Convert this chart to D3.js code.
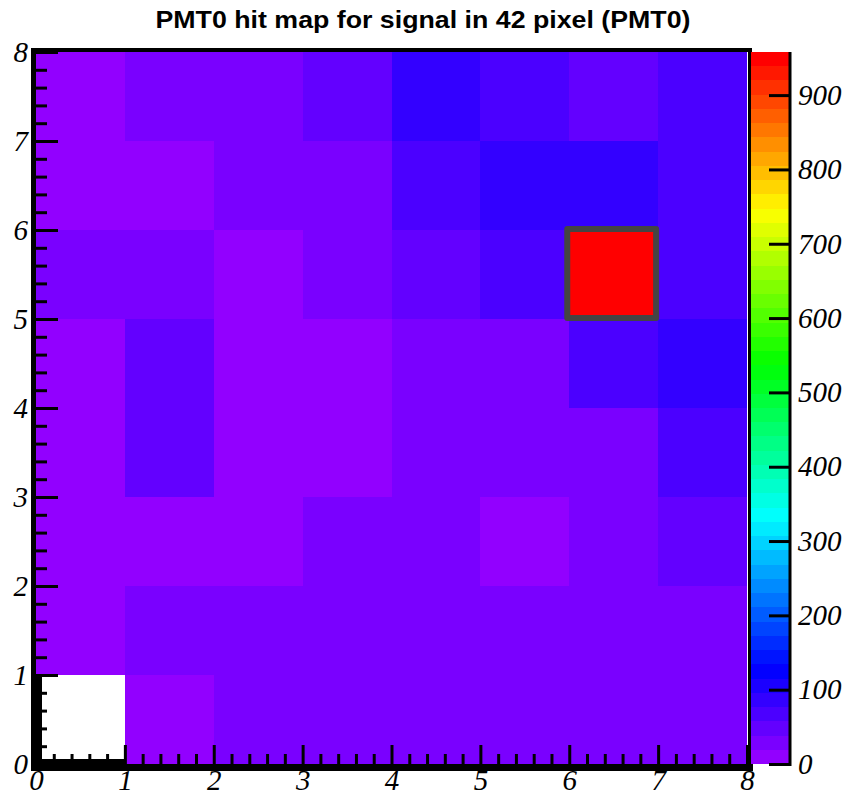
<!DOCTYPE html>
<html>
<head>
<meta charset="utf-8">
<script src="https://cdn.jsdelivr.net/npm/d3@7"></script>
<style>
  body { margin: 0; background: #fff; }
  svg { display: block; }
</style>
</head>
<body>
<svg id="chart"></svg>
<script>
// Hit counts per pixel, one array per y bin (row0 = bottom row), x bins 0..7
const row0 = [0, 11, 25, 29, 31, 28, 27, 26];
const row1 = [15, 28, 31, 29, 33, 27, 30, 32];
const row2 = [12, 17, 14, 35, 37, 13, 30, 43];
const row3 = [14, 40, 9, 16, 30, 32, 26, 74];
const row4 = [16, 41, 13, 11, 33, 28, 71, 87];
const row5 = [27, 31, 10, 26, 50, 69, 958, 63];
const row6 = [15, 17, 30, 34, 66, 88, 83, 70];
const row7 = [12, 29, 33, 47, 85, 68, 45, 64];
const rows = [row0, row1, row2, row3, row4, row5, row6, row7];

const axisTicks = [0, 1, 2, 3, 4, 5, 6, 7, 8];
const zTicks = [0, 100, 200, 300, 400, 500, 600, 700, 800, 900];
const signalPixel = { x: 6, y: 5 };   // the "42 pixel" that is boxed
const title = 'PMT0 hit map for signal in 42 pixel (PMT0)';

const width = 847, height = 797;
const svg = d3.select('#chart').attr('width', width).attr('height', height);

// flatten to cells
const cells = [];
rows.forEach((r, j) => r.forEach((v, i) => cells.push({ x: i, y: j, v: v })));

const x = d3.scaleLinear().domain([0, 8]).range([36, 747]);
const y = d3.scaleLinear().domain([0, 8]).range([764, 52]);

// 50 colour levels violet -> red up to the maximum bin
const zMax = d3.max(cells, d => d.v);
const nLevels = 50;
const levelColor = i => d3.hsl(280 - (i + 1) * (280 / nLevels), 1, 0.5).formatHex();
const level = v => Math.min(nLevels - 1, Math.floor(v / zMax * nLevels));
const z = d3.scaleLinear().domain([0, zMax]).range([764, 52]);

const labelFont = '"Liberation Serif", "Times New Roman", serif';

// thick axis lines (drawn first, cells cover part of them)
svg.append('line').attr('x1', 36.5).attr('x2', 36.5).attr('y1', 48).attr('y2', 771)
  .attr('stroke', '#000').attr('stroke-width', 11);
svg.append('line').attr('x1', 31).attr('x2', 753).attr('y1', 765).attr('y2', 765)
  .attr('stroke', '#000').attr('stroke-width', 12);
svg.append('line').attr('x1', 31).attr('x2', 752).attr('y1', 50).attr('y2', 50)
  .attr('stroke', '#000').attr('stroke-width', 4);

// cells (empty bins are not drawn)
svg.append('g').selectAll('rect')
  .data(cells.filter(d => d.v > 0))
  .enter().append('rect')
  .attr('x', d => x(d.x))
  .attr('y', d => y(d.y + 1))
  .attr('width', d => x(d.x + 1) - x(d.x))
  .attr('height', d => y(d.y) - y(d.y + 1))
  .attr('fill', d => levelColor(level(d.v)))
  .attr('shape-rendering', 'crispEdges');

// right frame line
svg.append('line').attr('x1', 749.5).attr('x2', 749.5).attr('y1', 48).attr('y2', 764)
  .attr('stroke', '#000').attr('stroke-width', 3);

// box round the signal pixel
svg.append('rect')
  .attr('x', x(signalPixel.x) - 2)
  .attr('y', y(signalPixel.y + 1) - 1)
  .attr('width', x(signalPixel.x + 1) - x(signalPixel.x))
  .attr('height', y(signalPixel.y) - y(signalPixel.y + 1))
  .attr('fill', 'none')
  .attr('stroke', '#444')
  .attr('stroke-width', 6)
  .attr('stroke-linejoin', 'round');

const minorTicks = d3.range(0, 40).filter(k => k % 5 !== 0).map(k => k / 5);

function styleAxis(g) {
  g.attr('font-family', null).attr('font-size', null);
  g.select('.domain').remove();
  g.selectAll('line').attr('stroke', '#000').attr('stroke-width', 3);
  g.selectAll('text')
    .style('font-family', labelFont)
    .style('font-style', 'italic')
    .style('font-size', '29px')
    .attr('fill', '#000');
}

// x axis
svg.append('g').attr('transform', 'translate(0,764)')
  .call(d3.axisBottom(x).tickValues(minorTicks).tickSize(-10).tickFormat(''))
  .call(styleAxis);
svg.append('g').attr('transform', 'translate(0,764)')
  .call(d3.axisBottom(x).tickValues(axisTicks).tickSize(-19).tickPadding(5).tickFormat(d3.format('d')))
  .call(styleAxis);

// y axis
svg.append('g').attr('transform', 'translate(36,0)')
  .call(d3.axisLeft(y).tickValues(minorTicks).tickSize(-11).tickFormat(''))
  .call(styleAxis);
svg.append('g').attr('transform', 'translate(36,0)')
  .call(d3.axisLeft(y).tickValues(axisTicks).tickSize(-22).tickPadding(8).tickFormat(d3.format('d')))
  .call(styleAxis);

// colour bar
svg.append('g').selectAll('rect')
  .data(d3.range(nLevels))
  .enter().append('rect')
  .attr('x', 751)
  .attr('width', 39)
  .attr('y', i => z((i + 1) * zMax / nLevels))
  .attr('height', i => z(i * zMax / nLevels) - z((i + 1) * zMax / nLevels))
  .attr('fill', i => levelColor(i))
  .attr('shape-rendering', 'crispEdges');

svg.append('line').attr('x1', 790).attr('x2', 790).attr('y1', 52).attr('y2', 766)
  .attr('stroke', '#000').attr('stroke-width', 3);

const zAxis = svg.append('g').attr('transform', 'translate(790,0)')
  .call(d3.axisLeft(z).tickValues(zTicks).tickSize(21).tickFormat(d3.format('d')))
  .call(styleAxis);
zAxis.selectAll('text').attr('x', 8).attr('text-anchor', 'start');

// title
svg.append('text')
  .attr('x', 423).attr('y', 28)
  .attr('text-anchor', 'middle')
  .attr('font-family', '"Liberation Sans", Arial, sans-serif')
  .attr('font-weight', 'bold')
  .attr('font-size', 24)
  .attr('textLength', 535)
  .attr('lengthAdjust', 'spacingAndGlyphs')
  .text(title);
</script>
</body>
</html>
